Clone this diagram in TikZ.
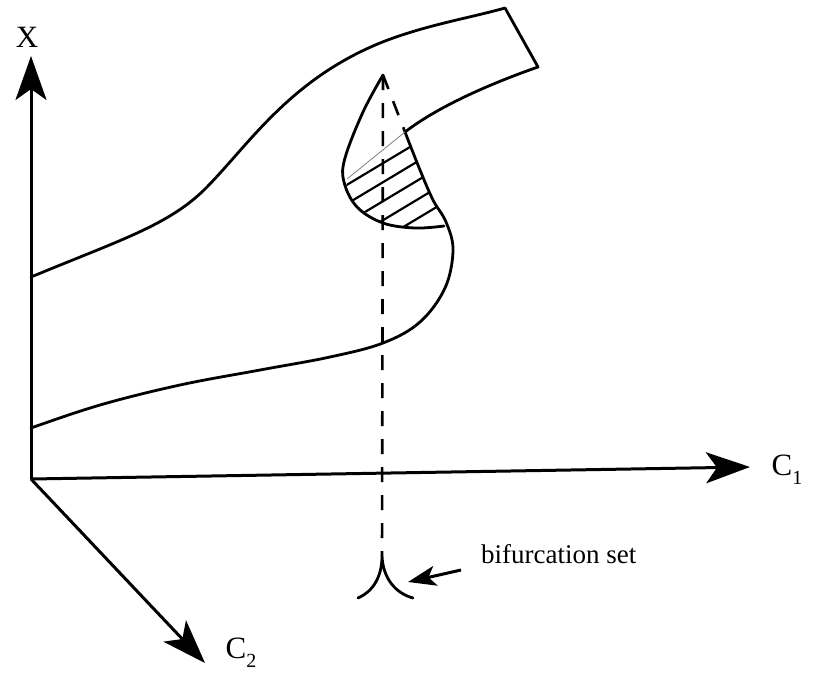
\documentclass[tikz,border=0pt]{standalone}
\usepackage{fontspec}
\setmainfont{Liberation Serif}
\usetikzlibrary{arrows.meta, positioning, calc}

\newcommand{\axlab}[2]{#1\raisebox{-0.3em}{\fontsize{20}{20}\selectfont #2}}

\begin{document}
\begin{tikzpicture}[
    x=1pt, y=-1pt,
    curve/.style={line width=2.8pt, line join=round, line cap=round},
    axis/.style={line width=3pt, -{Stealth[length=44pt, width=31pt, inset=11pt]}},
    hidden/.style={line width=2.6pt, dash pattern=on 15pt off 13pt},
    pointer/.style={line width=3pt, -{Stealth[length=28pt, width=20pt, inset=7pt]}},
    lab/.style={font=\fontsize{27}{27}\selectfont, inner sep=0pt},
    axlab/.style={font=\fontsize{31}{31}\selectfont, inner sep=0pt}
]
\useasboundingbox (0,0) rectangle (818,675);

% axes
\coordinate (O) at (31,479);
\coordinate (xtip) at (31,56);
\coordinate (c1tip) at (750,467);
\coordinate (c2tip) at (205,663);
\draw[axis] (O) -- (xtip);
\draw[axis] (O) -- (c1tip);
\draw[axis] (O) -- (c2tip);
\node[axlab] (xlab) at (27,37) {X};
\node[axlab] (c1lab) at (787,470) {\axlab{C}{1}};
\node[axlab] (c2lab) at (241,653) {\axlab{C}{2}};

% surface
\coordinate (fold) at (405,132);
\coordinate (cusptop) at (383,75);
\draw[curve] (31,277) .. controls (120,240) and (170,225) .. (207,187)
    .. controls (250,143) and (290,80) .. (380,43)
    .. controls (425,25) and (470,18) .. (505,8)
    -- (538,67)
    .. controls (495,82) and (440,105) .. (fold);
\draw[curve] plot[smooth, tension=0.6] coordinates {(31,428) (100,405) (180,385) (260,370) (330,357) (383,343) (420,322) (445,288) (453,250) (446,222) (433,200) (420,170) (fold)};
\draw[curve] plot[smooth, tension=0.6] coordinates {(cusptop) (363,112) (345,158) (344,182) (357,207) (383,223) (415,228) (444,226)};
\draw[hidden] (cusptop) -- (fold);
\draw[line width=0.8pt, gray] (fold) -- (347,179);

% hatching
\begin{scope}
  \clip (fold) -- (346,180) -- (347,195) -- (357,207) -- (383,223) -- (415,228) -- (444,226)
        -- (433,200) -- (420,170) -- cycle;
  \foreach \b in {393,412,431,450,469}
    \draw[line width=2.2pt] (330,\b-0.6*330) -- (460,\b-0.6*460);
\end{scope}

% bifurcation set
\coordinate (cusp) at (382,556);
\coordinate (cuspin) at (408,582);
\draw[hidden] (cusptop) -- (cusp);
\draw[curve] (358,598) .. controls (372,592) and (382,578) .. (cusp)
    .. controls (383,578) and (395,593) .. (413,598);
\node[lab, anchor=base west] (bif) at (481,563) {bifurcation set};
\draw[pointer] ([xshift=-20pt, yshift=-7pt]bif.base west) -- (cuspin);
\end{tikzpicture}
\end{document}
